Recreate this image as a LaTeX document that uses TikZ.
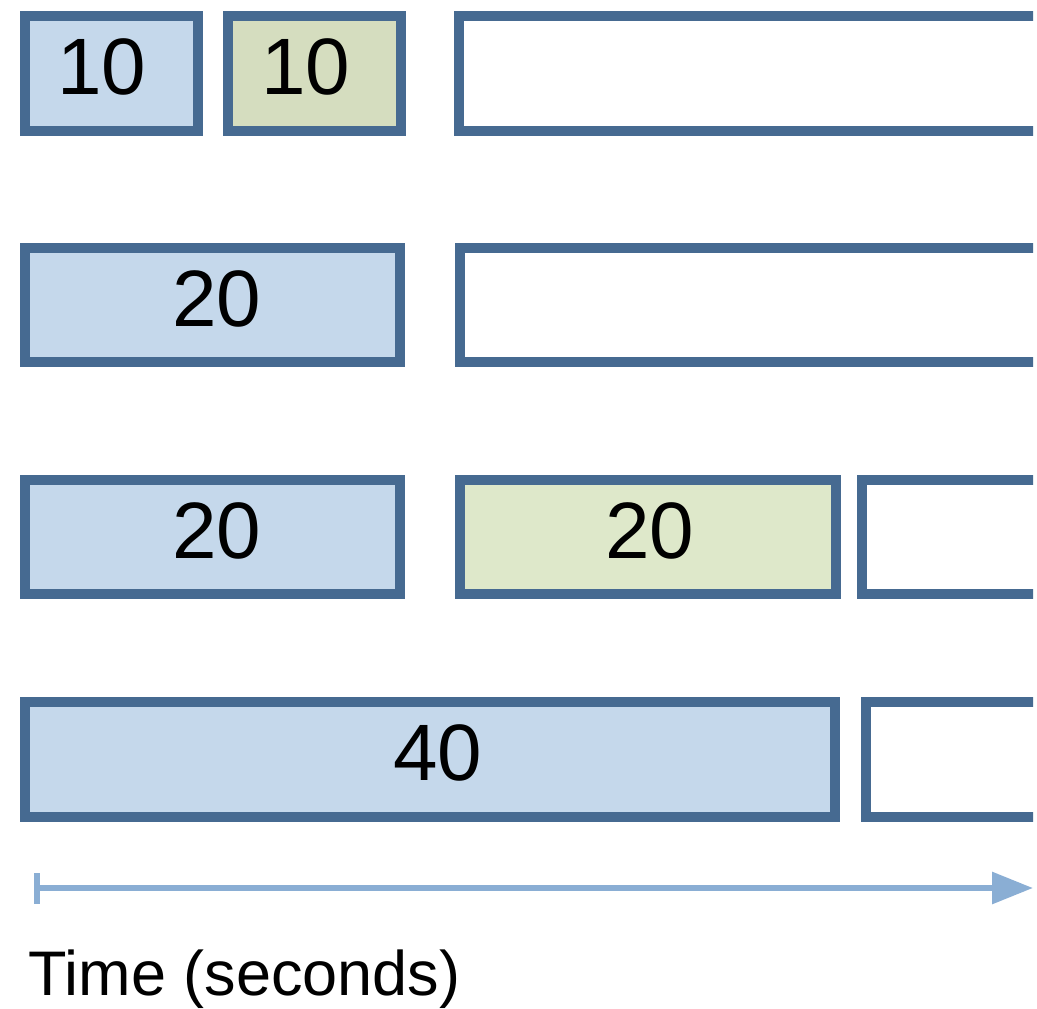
\documentclass[tikz,border=0pt]{standalone}
\usepackage{fontspec}
\setmainfont{Liberation Sans}
\usetikzlibrary{arrows.meta}

% palette
\definecolor{edgeblue}{HTML}{466A91}
\definecolor{fillblue}{HTML}{C5D8EB}
\definecolor{fillolive}{HTML}{D5DDBF}
\definecolor{fillgreen}{HTML}{DEE8CA}
\definecolor{axisblue}{HTML}{8AAED4}

% centre a label with a small horizontal offset
\newcommand\nudged[2]{\makebox[0pt]{\kern#1\kern#1#2}}

\tikzset{
  slot/.style={draw=edgeblue, line width=10pt, rectangle, miter limit=10,
    inner sep=0pt, outer sep=0pt, text=black,
    font=\fontsize{80}{80}\selectfont, text height=57.3pt, text depth=15pt},
  busy/.style={slot, fill=fillblue},
  other/.style={slot, fill=fillolive},
  otherlight/.style={slot, fill=fillgreen},
  idle/.style={slot, fill=white},
  timeaxis/.style={draw=axisblue, line width=6pt,
    {Bar[width=31pt]}-{Triangle[width=31pt,length=41pt]}},
  axislabel/.style={anchor=base west, inner sep=0pt, text=black,
    font=\fontsize{63}{63}\selectfont}
}

\begin{document}
\begin{tikzpicture}[x=1pt, y=-1pt]
\useasboundingbox[fill=white] (0,0) rectangle (1037,1009);

\begin{scope}
\clip (0,0) rectangle (1033,1009);
% row 1
\node[busy,  minimum width=173pt, minimum height=115pt] (r1a) at (111.5,73.5) {\nudged{-10pt}{10}};
\node[other, minimum width=173pt, minimum height=115pt] (r1b) at (314.5,73.5) {\nudged{-9pt}{10}};
\node[idle,  minimum width=601pt, minimum height=115pt] (r1c) at (759.5,73.5) {};
% row 2
\node[busy, minimum width=375pt, minimum height=114pt] (r2a) at (212.5,305) {\nudged{4pt}{20}};
\node[idle, minimum width=600pt, minimum height=114pt] (r2b) at (760,305) {};
% row 3
\node[busy,       minimum width=375pt, minimum height=114pt] (r3a) at (212.5,537) {\nudged{4pt}{20}};
\node[otherlight, minimum width=376pt, minimum height=114pt] (r3b) at (648,537) {\nudged{2pt}{20}};
\node[idle,       minimum width=198pt, minimum height=114pt] (r3c) at (961,537) {};
% row 4
\node[busy, minimum width=810pt, minimum height=115pt] (r4a) at (430,759.5) {\nudged{8pt}{40}};
\node[idle, minimum width=194pt, minimum height=115pt] (r4b) at (963,759.5) {};
\end{scope}

% time axis
\coordinate (t0) at (34,888);
\coordinate (t1) at (1033,888);
\draw[timeaxis] (t0) -- (t1);
\node[axislabel] (tlabel) at (28.5,995) {Time (seconds)};
\end{tikzpicture}
\end{document}
